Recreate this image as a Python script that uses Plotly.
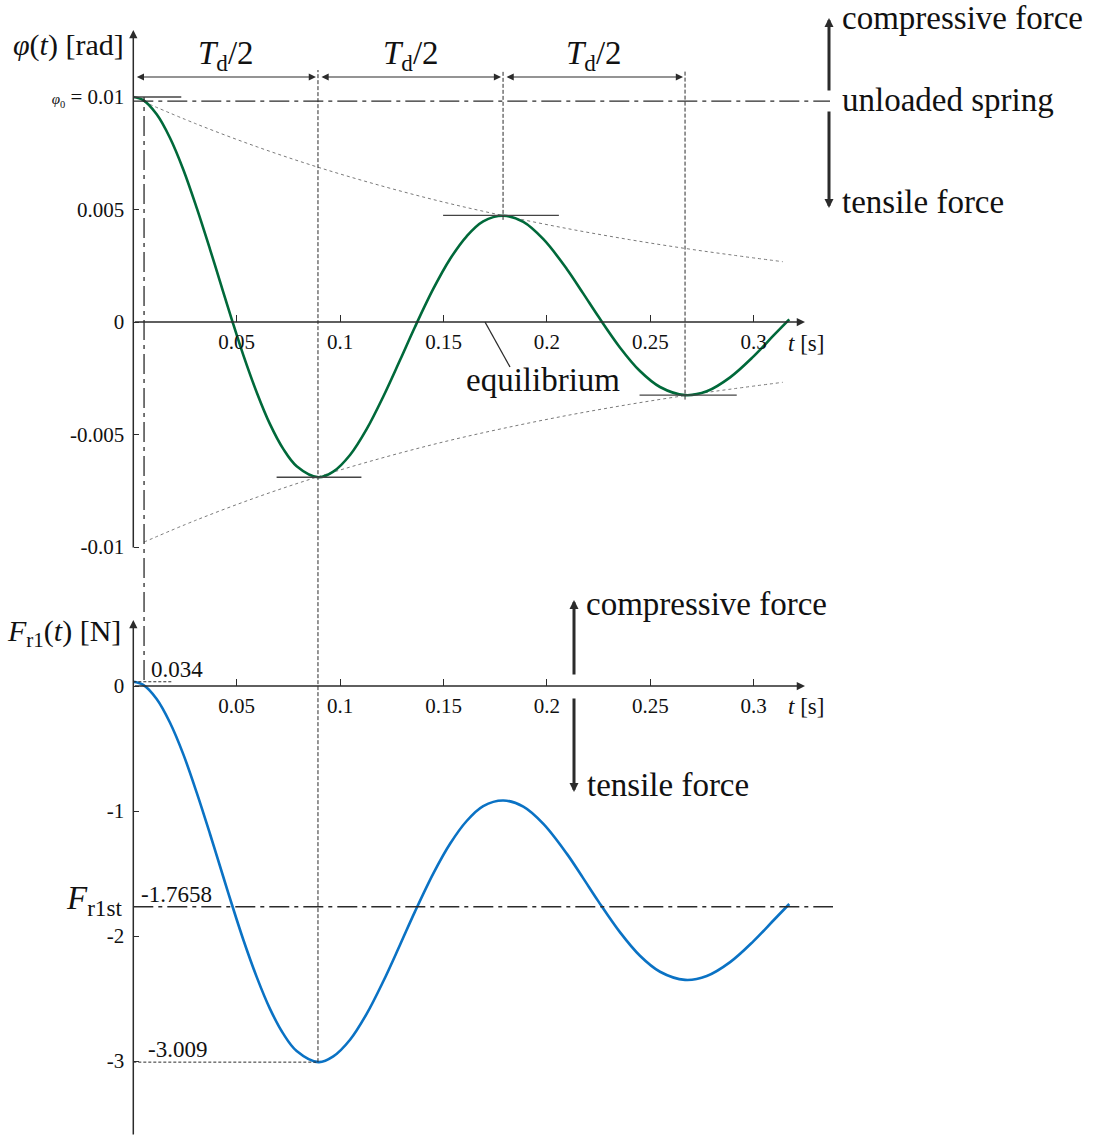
import plotly.graph_objects as go

W, H = 1093, 1136      # reference geometry in px
H_PAGE = 1145          # the photo squeezes the page height by ~0.8%, so draw a bit taller

# angle response phi(t)
t_phi = [0.0, 0.0048, 0.0113, 0.0177, 0.0242, 0.0307, 0.0371, 0.0435, 0.0476,
         0.0532, 0.0597, 0.0661, 0.0725, 0.0790, 0.0896, 0.0967, 0.1048, 0.1129,
         0.1209, 0.1290, 0.1362, 0.1451, 0.1531, 0.1612, 0.1692, 0.1789, 0.1886,
         0.1983, 0.2096, 0.2176, 0.2249, 0.2353, 0.2450, 0.2547, 0.2668, 0.2773,
         0.2886, 0.2998, 0.3095, 0.3172]
phi = [0.0100, 0.00986, 0.00923, 0.00819, 0.00677, 0.00506, 0.00323, 0.00133, 0.00012,
       -0.00147, -0.00313, -0.00454, -0.00564, -0.00641, -0.0069, -0.00665, -0.00591, -0.00475,
       -0.00331, -0.00169, -0.00022, 0.00148, 0.00279, 0.00381, 0.00447, 0.00472, 0.00445,
       0.00368, 0.00236, 0.00126, 0.00024, -0.00113, -0.00218, -0.00289, -0.00325, -0.00308,
       -0.00246, -0.00154, -0.00061, 0.00012]

# decay envelope (dotted)
t_env = [0.0052, 0.03, 0.06, 0.0893, 0.12, 0.15, 0.1788, 0.21, 0.24, 0.2668, 0.29, 0.3141]
env_upper = [0.00978, 0.00882, 0.00778, 0.00688, 0.00605, 0.00533, 0.00473, 0.00415,
             0.00366, 0.00327, 0.00297, 0.00268]
env_lower = [-0.00978, -0.00882, -0.00778, -0.00688, -0.00605, -0.00533, -0.00473, -0.00415,
             -0.00366, -0.00327, -0.00297, -0.00268]

# spring force F_r1(t)
t_force = [0.0, 0.0048, 0.0113, 0.0177, 0.0242, 0.0307, 0.0371, 0.0435, 0.0476,
           0.0532, 0.0597, 0.0661, 0.0725, 0.0790, 0.0896, 0.0967, 0.1048, 0.1129,
           0.1209, 0.1290, 0.1362, 0.1451, 0.1531, 0.1612, 0.1692, 0.1789, 0.1886,
           0.1983, 0.2096, 0.2176, 0.2249, 0.2353, 0.2450, 0.2547, 0.2668, 0.2773,
           0.2886, 0.2998, 0.3095, 0.3172]
force = [0.034, 0.009, -0.104, -0.292, -0.547, -0.855, -1.184, -1.526, -1.744,
         -2.030, -2.329, -2.583, -2.781, -2.920, -3.009, -2.963, -2.830, -2.621,
         -2.362, -2.070, -1.805, -1.499, -1.264, -1.080, -0.961, -0.916, -0.965,
         -1.103, -1.341, -1.539, -1.723, -1.969, -2.158, -2.286, -2.351, -2.320,
         -2.209, -2.043, -1.876, -1.744]

x_ticks = [0.05, 0.1, 0.15, 0.2, 0.25, 0.3]
x_tick_text = ['0.05', '0.1', '0.15', '0.2', '0.25', '0.3']
phi_ticks = [-0.01, -0.005, 0, 0.005, 0.01]
phi_tick_text = ['-0.01', '-0.005', '0', '0.005',
                 "<span style='font-size:15px'><i>φ</i><sub>0</sub></span> = 0.01"]
force_ticks = [-3, -2, -1, 0]
force_tick_text = ['-3', '-2', '-1', '0']

td_times = [0.0893, 0.1788, 0.2668]      # extremes, Td/2 apart
td_values = [-0.0069, 0.00474, -0.00325]
phi0 = 0.01
phi_unloaded = 0.00982
t_unloaded = 0.0052
f_start = 0.034
f_static = -1.7658
f_min = -3.009
t_end = 0.3248

# pixel geometry of the drawing
X0, SX = 133.3, 2068.0          # t = 0 position, px per second
Y0, SY = 322.0, 22500.0         # phi = 0 position, px per rad
F0, SF = 686.0, 125.0           # F = 0 position, px per N

INK = '#2b2b2b'
GREEN = '#00693a'
BLUE = '#0a72c4'
FONT = 'Liberation Serif'
BIG = 33


def px(x):
    return x / W


def py(y):
    return 1 - y / H


fig = go.Figure()

for env in (env_upper, env_lower):
    fig.add_trace(go.Scatter(x=t_env, y=env, mode='lines', line_shape='spline',
                             line=dict(color='#7a7a7a', width=1, dash='dot'),
                             xaxis='x', yaxis='y'))
fig.add_trace(go.Scatter(x=t_phi, y=phi, mode='lines', line_shape='spline',
                         line=dict(color=GREEN, width=2.6),
                         xaxis='x', yaxis='y'))
fig.add_trace(go.Scatter(x=t_force, y=force, mode='lines', line_shape='spline',
                         line=dict(color=BLUE, width=2.6),
                         xaxis='x2', yaxis='y2'))

shapes = []
dashdot = '20px,5px,4px,5px'

# unloaded spring level and its time
shapes.append(dict(type='line', xref='x', yref='y', x0=0, x1=(830 - X0) / SX,
                   y0=phi_unloaded, y1=phi_unloaded,
                   line=dict(color=INK, width=1.3, dash=dashdot)))
shapes.append(dict(type='line', xref='x', yref='paper', x0=t_unloaded, x1=t_unloaded,
                   y0=py(680), y1=py(97),
                   line=dict(color=INK, width=1.3, dash=dashdot)))
# static force level
shapes.append(dict(type='line', xref='x2', yref='y2', x0=0, x1=(833 - X0) / SX,
                   y0=f_static, y1=f_static,
                   line=dict(color=INK, width=1.3, dash=dashdot)))

# Td/2 marker lines
shapes.append(dict(type='line', xref='x', yref='paper', x0=td_times[0], x1=td_times[0],
                   y0=py(F0 - SF * f_min), y1=py(70),
                   line=dict(color=INK, width=1, dash='4px,2px')))
for t, v in zip(td_times[1:], td_values[1:]):
    shapes.append(dict(type='line', xref='x', yref='y', x0=t, x1=t,
                       y0=v - 0.0002, y1=(Y0 - 70) / SY,
                       line=dict(color=INK, width=1, dash='4px,2px')))

# horizontal tangents at the extremes
tangent_span = [(0.020, 0.021), (0.029, 0.027), (0.022, 0.025)]
for t, v, (a, b) in zip(td_times, td_values, tangent_span):
    shapes.append(dict(type='line', xref='x', yref='y', x0=t - a, x1=t + b,
                       y0=v, y1=v, line=dict(color='#444444', width=1.4)))
shapes.append(dict(type='line', xref='x', yref='y', x0=0, x1=0.0232,
                   y0=phi0, y1=phi0, line=dict(color='#444444', width=1.4)))

# reference lines in the force plot
shapes.append(dict(type='line', xref='x2', yref='y2', x0=0, x1=0.0192,
                   y0=f_start, y1=f_start,
                   line=dict(color=INK, width=1, dash='3px,2px')))
shapes.append(dict(type='line', xref='x2', yref='y2', x0=0, x1=td_times[0],
                   y0=f_min, y1=f_min,
                   line=dict(color=INK, width=1, dash='3px,2px')))

# equilibrium leader
shapes.append(dict(type='line', xref='paper', yref='paper',
                   x0=px(485), y0=py(322), x1=px(510), y1=py(367),
                   line=dict(color=INK, width=1.3)))

ann = []


def text(x, y, s, size=BIG, anchor='left', **kw):
    ann.append(dict(xref='paper', yref='paper', x=px(x), y=py(y), text=s,
                    showarrow=False, xanchor=anchor, yanchor='middle',
                    font=dict(size=size, color='#111111', family=FONT), **kw))


# axes drawn as arrows
for xr, yr, top, bottom in [('x', 'y', (Y0 - 30) / SY, (Y0 - 549) / SY),
                            ('x2', 'y2', (F0 - 620) / SF, (F0 - H) / SF)]:
    ann.append(dict(xref=xr, yref=yr, axref=xr, ayref=yr, x=t_end, y=0, ax=0, ay=0,
                    text='', showarrow=True, arrowhead=2, arrowsize=1.1,
                    arrowwidth=1.5, arrowcolor=INK))
    ann.append(dict(xref=xr, yref=yr, axref=xr, ayref=yr, x=0, y=top, ax=0, ay=bottom,
                    text='', showarrow=True, arrowhead=2, arrowsize=1.1,
                    arrowwidth=1.5, arrowcolor=INK))

# Td/2 dimension arrows
arrow_level = (Y0 - 77) / SY
starts = [0] + td_times[:-1]
for t0, t1 in zip(starts, td_times):
    ann.append(dict(xref='x', yref='y', axref='x', ayref='y', x=t1, y=arrow_level,
                    ax=t0, ay=arrow_level, text='', showarrow=True,
                    arrowside='end+start', arrowhead=2, arrowsize=1.2,
                    arrowwidth=1.2, arrowcolor=INK, standoff=2, startstandoff=2))
    ann.append(dict(xref='x', yref='paper', x=(t0 + t1) / 2, y=py(55),
                    text='<i>T</i><sub>d</sub>/2', showarrow=False,
                    xanchor='center', yanchor='middle',
                    font=dict(size=BIG, color='#111111', family=FONT)))

# force direction arrows
for x, y, dy in [(829, 18, 74), (829, 208, -98), (574, 600, 76), (574, 792, -95)]:
    ann.append(dict(xref='paper', yref='paper', x=px(x), y=py(y), ax=0, ay=dy,
                    axref='pixel', ayref='pixel', text='', showarrow=True,
                    arrowhead=2, arrowsize=0.6, arrowwidth=3, arrowcolor=INK))

text(840, 18, 'compressive force')
text(840, 100, 'unloaded spring')
text(840, 202, 'tensile force')
text(584, 604, 'compressive force')
text(585, 785, 'tensile force')
text(543, 380, 'equilibrium', anchor='center')
text(126, 45, '<i>φ</i>(<i>t</i>) [rad]', size=30, anchor='right')
text(123, 633, '<i>F</i><sub>r1</sub>(<i>t</i>) [N]', size=30, anchor='right')
text(124, 900, '<i>F</i><sub>r1st</sub>', size=33, anchor='right')
text(786, 343, '<i>t</i> [s]', size=23)
text(786, 706, '<i>t</i> [s]', size=23)

for y, s, xs in [(f_start, '0.034', 16), (f_static, '-1.7658', 6), (f_min, '-3.009', 13)]:
    ann.append(dict(xref='x2', yref='y2', x=0, y=y, text=s, showarrow=False,
                    xanchor='left', yanchor='bottom', xshift=xs, yshift=-2,
                    font=dict(size=23, color='#111111', family=FONT)))

tick_font = dict(size=21, color='#111111', family=FONT)
x_common = dict(range=[-X0 / SX, (W - X0) / SX], domain=[0, 1], anchor='free',
                showgrid=False, zeroline=False, showline=False,
                tickmode='array', tickvals=x_ticks, ticktext=x_tick_text,
                ticks='inside', ticklen=7, tickwidth=1.2, tickcolor=INK,
                tickfont=tick_font, ticklabelstandoff=5)
y_common = dict(anchor='free', position=px(X0), showgrid=False, zeroline=False,
                showline=False, ticks='inside', ticklen=5, tickwidth=1.2,
                tickcolor=INK, tickfont=tick_font, tickmode='array',
                ticklabelstandoff=9)

fig.update_layout(
    width=W, height=H_PAGE, autosize=False,
    margin=dict(l=0, r=0, t=0, b=0),
    paper_bgcolor='white', plot_bgcolor='white',
    showlegend=False, hovermode=False,
    font=dict(family=FONT, color='#111111'),
    xaxis=dict(x_common, position=py(Y0)),
    xaxis2=dict(x_common, position=py(F0), matches='x'),
    yaxis=dict(y_common, domain=[py(550), py(30)],
               range=[(Y0 - 550) / SY, (Y0 - 30) / SY],
               tickvals=phi_ticks, ticktext=phi_tick_text),
    yaxis2=dict(y_common, domain=[0, py(620)],
                range=[(F0 - H) / SF, (F0 - 620) / SF],
                tickvals=force_ticks, ticktext=force_tick_text),
    shapes=shapes,
    annotations=ann,
)

# the page body keeps its default 8px margin otherwise
fig.write_html('out.html', config={'displayModeBar': False},
               post_script="document.body.style.margin='0';")
